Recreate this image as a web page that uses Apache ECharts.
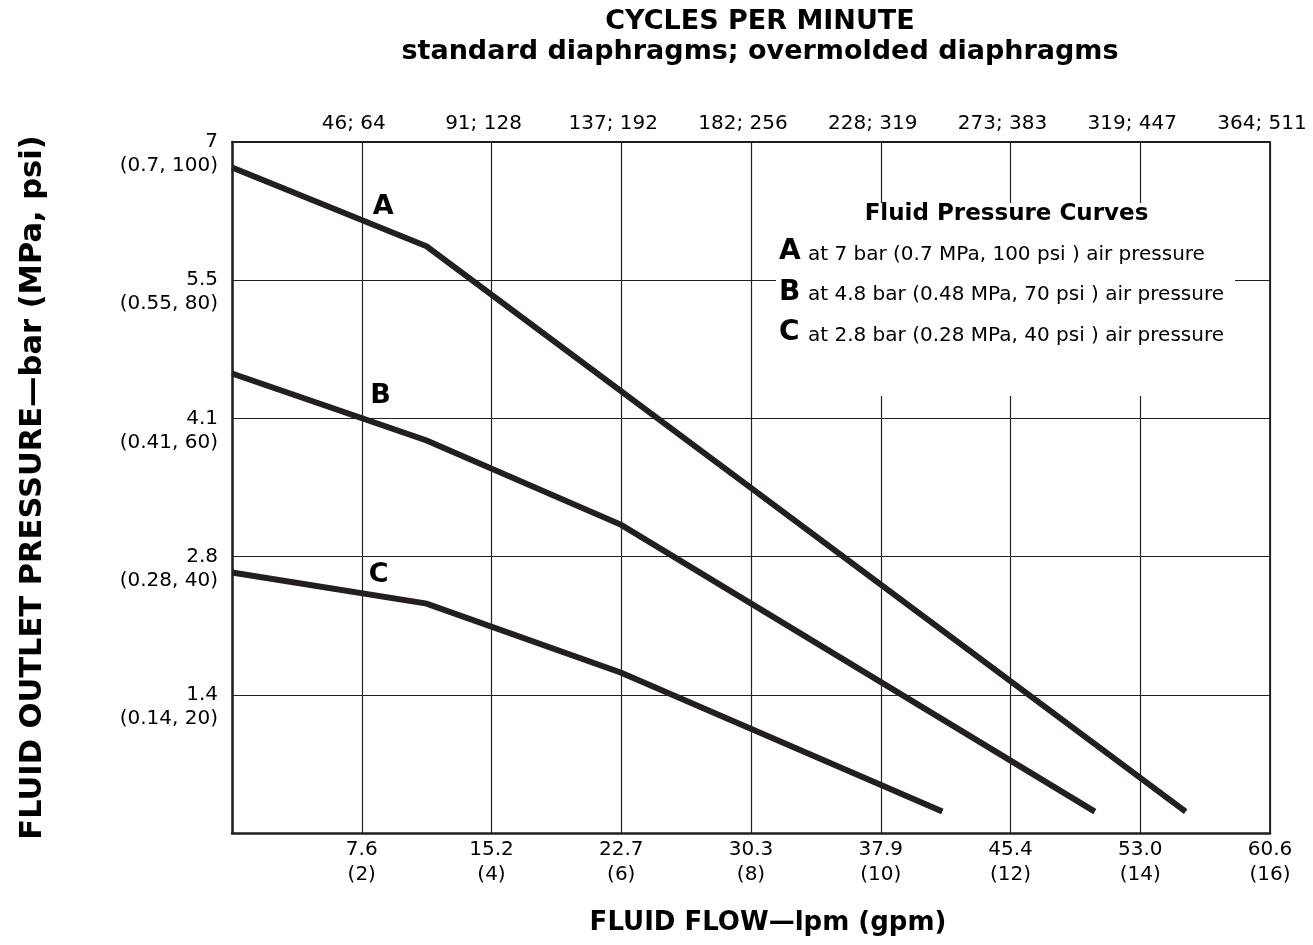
<!DOCTYPE html>
<html><head><meta charset="utf-8">
<script src="https://cdn.jsdelivr.net/npm/echarts@6/dist/echarts.min.js"></script>
<style>html,body{margin:0;padding:0;background:#fff;overflow:hidden}#c{width:1313px;height:945px}</style>
</head><body><div id="c"></div>
<script>
// ---- data ----
const flowGpmTicks = [0, 2, 4, 6, 8, 10, 12, 14, 16];
const flowLpmLabels = ['', '7.6', '15.2', '22.7', '30.3', '37.9', '45.4', '53.0', '60.6'];
const flowGpmLabels = ['', '(2)', '(4)', '(6)', '(8)', '(10)', '(12)', '(14)', '(16)'];
const cyclesLabels = ['', '46; 64', '91; 128', '137; 192', '182; 256', '228; 319', '273; 383', '319; 447', '364; 511'];
const pressurePsiTicks = [0, 20, 40, 60, 80, 100];
const pressureBarLabels = ['', '1.4', '2.8', '4.1', '5.5', '7'];
const pressureMpaPsiLabels = ['', '(0.14, 20)', '(0.28, 40)', '(0.41, 60)', '(0.55, 80)', '(0.7, 100)'];
// curves: [flow gpm, outlet pressure psi]
const curveA = [[0, 96.3], [3.0, 84.9], [14.7, 3.1]];
const curveB = [[0, 66.5], [3.0, 56.8], [6.0, 44.6], [13.3, 3.1]];
const curveC = [[0, 37.7], [3.0, 33.2], [6.0, 23.2], [10.95, 3.1]];
const curveNames = ['A', 'B', 'C'];
const curveLabelPoints = [[2.33, 90.6], [2.29, 63.2], [2.26, 37.4]];
const legendTitle = 'Fluid Pressure Curves';
const legendTexts = [
  'at 7 bar (0.7 MPa, 100 psi ) air pressure',
  'at 4.8 bar (0.48 MPa, 70 psi ) air pressure',
  'at 2.8 bar (0.28 MPa, 40 psi ) air pressure'
];
const titleText = 'CYCLES PER MINUTE\nstandard diaphragms; overmolded diaphragms';
const xName = 'FLUID FLOW—lpm (gpm)';
const yName = 'FLUID OUTLET PRESSURE—bar (MPa, psi)';

// ---- chart ----
const FONT = '"DejaVu Sans", "Liberation Sans", Arial, sans-serif';
const INK = '#231f20';
const chart = echarts.init(document.getElementById('c'), null, {renderer: 'canvas'});

const legendEls = [
  {type: 'rect', shape: {x: 776, y: 203, width: 459, height: 193}, style: {fill: '#fff'}, z: 100, silent: true},
  {type: 'text', x: 1006.5, y: 214, z: 101,
   style: {text: legendTitle, fill: '#000', fontFamily: FONT, fontWeight: 'bold', fontSize: 23, align: 'center', verticalAlign: 'middle'}}
];
curveNames.forEach((n, i) => {
  legendEls.push({type: 'text', x: 779, y: 251.8 + i * 40.5, z: 101,
    style: {text: n, fill: '#000', fontFamily: FONT, fontWeight: 'bold', fontSize: 28, align: 'left', verticalAlign: 'middle'}});
  legendEls.push({type: 'text', x: 808, y: 254.7 + i * 40.5, z: 101,
    style: {text: legendTexts[i], fill: '#000', fontFamily: FONT, fontSize: 20, align: 'left', verticalAlign: 'middle'}});
});

const lineSeries = (name, data) => ({
  name, type: 'line', data, xAxisIndex: 0, yAxisIndex: 0,
  showSymbol: false, symbol: 'none', silent: true,
  lineStyle: {color: INK, width: 6, cap: 'butt', join: 'miter'}, z: 5
});

const psiIndex = v => pressurePsiTicks.indexOf(v);

const option = {
  animation: false,
  backgroundColor: '#fff',
  title: {
    text: titleText, left: 760, top: 7, padding: 0, textAlign: 'center',
    textStyle: {fontFamily: FONT, fontWeight: 'bold', fontSize: 27, lineHeight: 30, color: '#000'}
  },
  grid: {left: 232, right: 43, top: 142, bottom: 112, containLabel: false, outerBoundsMode: 'none'},
  xAxis: [
    {
      type: 'value', position: 'bottom', min: 0, max: 16, interval: 2,
      name: xName, nameLocation: 'middle', nameGap: 75,
      nameTextStyle: {fontFamily: FONT, fontWeight: 'bold', fontSize: 26, lineHeight: 30, color: '#000', padding: [0, 0, 0, 34]},
      axisLine: {show: true, onZero: false, lineStyle: {color: INK, width: 2.5}},
      axisTick: {show: false},
      axisLabel: {
        fontFamily: FONT, fontSize: 20, lineHeight: 24.5, margin: 5, color: '#000',
        formatter: v => { const i = flowGpmTicks.indexOf(v); return i > 0 ? flowLpmLabels[i] + '\n' + flowGpmLabels[i] : ''; }
      },
      splitLine: {show: true, lineStyle: {color: INK, width: 1.2}}
    },
    {
      type: 'value', position: 'top', min: 0, max: 16, interval: 2,
      axisLine: {show: true, onZero: false, lineStyle: {color: INK, width: 1.8}},
      axisTick: {show: false},
      axisLabel: {
        fontFamily: FONT, fontSize: 20, lineHeight: 20, margin: 8, color: '#000', padding: [0, 16, 0, 0],
        formatter: v => { const i = flowGpmTicks.indexOf(v); return i > 0 ? cyclesLabels[i] : ''; }
      },
      splitLine: {show: false}
    }
  ],
  yAxis: [
    {
      type: 'value', position: 'left', min: 0, max: 100, interval: 20,
      name: yName, nameLocation: 'middle', nameRotate: 90, nameGap: 184,
      nameTextStyle: {fontFamily: FONT, fontWeight: 'bold', fontSize: 30.5, lineHeight: 30, color: '#000'},
      axisLine: {show: true, onZero: false, lineStyle: {color: INK, width: 2.5}},
      axisTick: {show: false},
      axisLabel: {
        fontFamily: FONT, fontSize: 20, lineHeight: 24, margin: 14, color: '#000',
        formatter: v => { const i = psiIndex(v); return i > 0 ? pressureBarLabels[i] : ''; }
      },
      splitLine: {show: true, lineStyle: {color: INK, width: 1.2}}
    },
    {
      type: 'value', position: 'right', min: 0, max: 100, interval: 20,
      axisLine: {show: true, onZero: false, lineStyle: {color: INK, width: 1.8}},
      axisTick: {show: false}, axisLabel: {show: false}, splitLine: {show: false}
    },
    {
      type: 'value', position: 'left', offset: 0, min: 0, max: 100, interval: 20,
      axisLine: {show: false}, axisTick: {show: false}, splitLine: {show: false},
      axisLabel: {
        fontFamily: FONT, fontSize: 20, lineHeight: 48, margin: 14, color: '#000', verticalAlign: 'top',
        formatter: v => { const i = psiIndex(v); return i > 0 ? pressureMpaPsiLabels[i] : ''; }
      }
    }
  ],
  series: [
    lineSeries('A', curveA),
    lineSeries('B', curveB),
    lineSeries('C', curveC),
    {
      type: 'scatter', xAxisIndex: 0, yAxisIndex: 0, silent: true, symbolSize: 1,
      itemStyle: {color: 'transparent'},
      data: curveLabelPoints.map((p, i) => ({name: curveNames[i], value: p})),
      label: {show: true, position: 'inside', formatter: p => p.name,
        fontFamily: FONT, fontWeight: 'bold', fontSize: 27, color: '#000', textBorderWidth: 0, opacity: 1},
      z: 6
    }
  ],
  graphic: {elements: legendEls}
};
chart.setOption(option);
</script>
</body></html>
